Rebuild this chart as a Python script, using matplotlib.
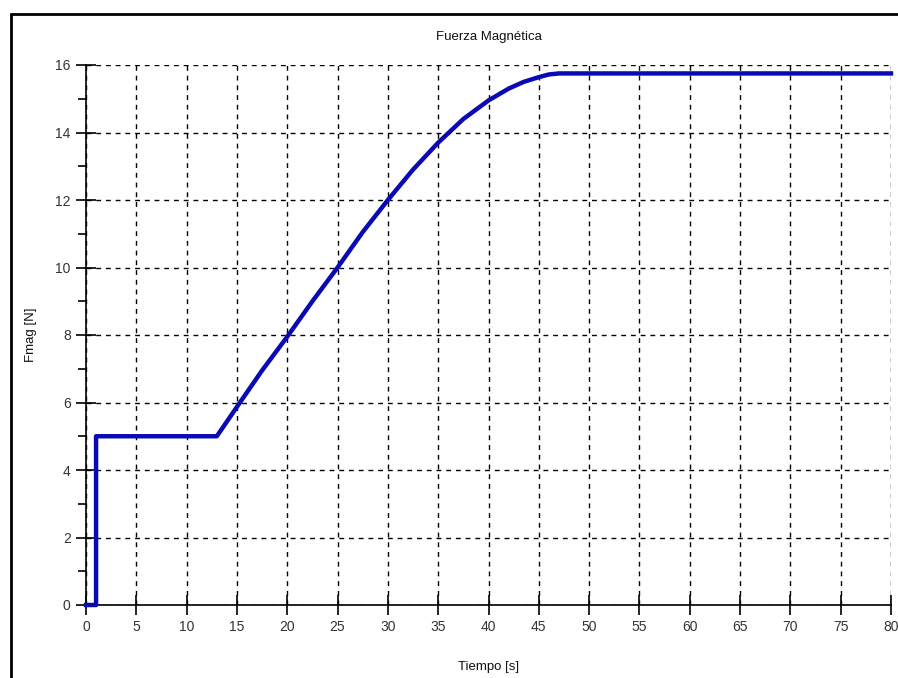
import matplotlib
matplotlib.use("Agg")
import matplotlib.pyplot as plt
from matplotlib.patches import Rectangle
from matplotlib.ticker import MultipleLocator

# Data
t = [0, 1, 1, 13, 15.3, 17.5, 20, 22.5, 25, 27.5, 30, 32.5, 35, 37.5, 40,
     42, 43.5, 45, 46, 47, 80]
fmag = [0, 0, 5, 5, 6, 6.95, 7.95, 9.0, 10, 11.05, 12, 12.9, 13.7, 14.4, 14.95,
        15.3, 15.5, 15.64, 15.72, 15.75, 15.75]

title = "Fuerza Magnética"
xlabel = "Tiempo [s]"
ylabel = "Fmag [N]"
xticks = list(range(0, 81, 5))
yticks = list(range(0, 17, 2))

plt.rcParams["font.family"] = ["Liberation Sans", "DejaVu Sans"]

fig = plt.figure(figsize=(8.98, 6.78), dpi=100)
W, H = 898, 678

# outer frame (cropped at right and bottom)
fig.patches.append(Rectangle((11 / W, -0.1), 1.2, (H - 14) / H + 0.1,
                             transform=fig.transFigure, fill=False,
                             edgecolor="black", linewidth=2))

ax = fig.add_axes([86 / W, (H - 605) / H, 805 / W, 540 / H])
ax.plot(t, fmag, color="#0a0ab4", linewidth=3.2, solid_joinstyle="round",
        clip_on=False, zorder=3)

ax.set_xlim(0, 80)
ax.set_ylim(0, 16)
ax.set_xticks(xticks)
ax.set_yticks(yticks)
ax.yaxis.set_minor_locator(MultipleLocator(1))
ax.grid(True, which="major", color="black", linestyle=(0, (3.5, 3.5)), linewidth=1)

for s in ["top", "right"]:
    ax.spines[s].set_visible(False)
for s in ["left", "bottom"]:
    ax.spines[s].set_linewidth(1.2)

ax.tick_params(axis="both", which="major", direction="inout", length=14, width=1.2,
               labelsize=10, colors="black", pad=4)
ax.tick_params(axis="y", which="minor", direction="out", length=6, width=1.2)
for lab in ax.get_xticklabels() + ax.get_yticklabels():
    lab.set_color("#333333")

ax.set_title(title, fontsize=9.5, pad=18, color="#111111")
ax.set_xlabel(xlabel, fontsize=9.5, labelpad=19, color="#111111")
ax.set_ylabel(ylabel, fontsize=9.5, labelpad=13, color="#111111")

fig.savefig("out.png", dpi=100)
